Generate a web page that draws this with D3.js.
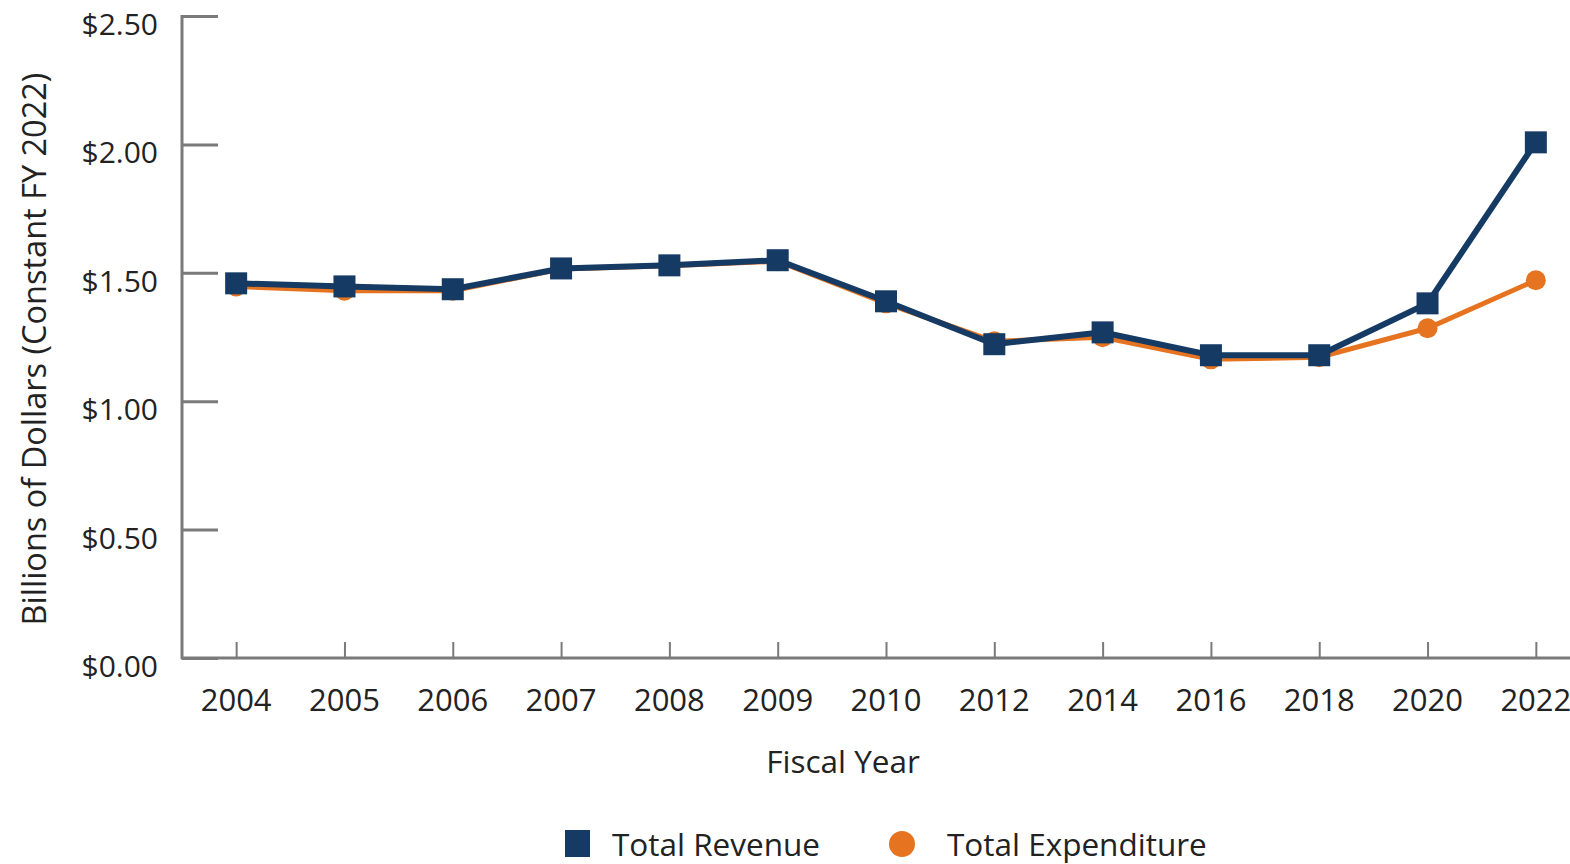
<!DOCTYPE html>
<html>
<head>
<meta charset="utf-8">
<script src="https://cdn.jsdelivr.net/npm/d3@7"></script>
<style>
	body { margin: 0; background: #fff; }
	svg { display: block; font-family: "Open Sans", "Noto Sans", sans-serif; }
</style>
</head>
<body>
<svg id="chart" width="1570" height="864"></svg>
<script>
// fiscal years (not evenly spaced, drawn as categories)
const years = ["2004", "2005", "2006", "2007", "2008", "2009", "2010", "2012", "2014", "2016", "2018", "2020", "2022"];
// billions of dollars, constant FY 2022
const revenue = [1.459, 1.447, 1.436, 1.517, 1.529, 1.549, 1.389, 1.222, 1.268, 1.179, 1.179, 1.381, 2.008];
const expenditure = [1.447, 1.430, 1.430, 1.515, 1.527, 1.545, 1.381, 1.233, 1.249, 1.163, 1.171, 1.284, 1.471];
const yTicks = [0, 0.5, 1.0, 1.5, 2.0, 2.5];

const colors = { revenue: "#153a63", expenditure: "#e5731f", axis: "#7a7a7a" };

const svg = d3.select("#chart");

const x = d3.scalePoint()
	.domain(years)
	.range([182, 1590])
	.padding(0.5);

const y = d3.scaleLinear()
	.domain([0, 2.5])
	.range([658, 16]);

// y axis: ticks point inward
const yAxis = svg.append("g")
	.attr("transform", "translate(182,0)")
	.call(d3.axisRight(y).tickValues(yTicks).tickSize(36).tickFormat(""));
yAxis.select(".domain").remove();
yAxis.selectAll(".tick line").attr("stroke", colors.axis).attr("stroke-width", 3);
svg.append("line")
	.attr("x1", 182).attr("x2", 182)
	.attr("y1", y(2.5) - 1).attr("y2", y(0) + 1)
	.attr("stroke", colors.axis).attr("stroke-width", 3);

svg.append("g").selectAll("text")
	.data(yTicks)
	.enter()
	.append("text")
	.attr("x", 158)
	.attr("y", d => y(d) + 19)
	.attr("text-anchor", "end")
	.attr("font-size", 30)
	.attr("fill", "#222")
	.text(d => "$" + d.toFixed(2));

// x axis: ticks point up
const xAxis = svg.append("g")
	.attr("transform", "translate(0,658)")
	.call(d3.axisTop(x).tickSize(16).tickFormat(""));
xAxis.select(".domain").remove();
xAxis.selectAll(".tick line").attr("stroke", colors.axis).attr("stroke-width", 2);
svg.append("line")
	.attr("x1", 181).attr("x2", 1570)
	.attr("y1", 658).attr("y2", 658)
	.attr("stroke", colors.axis).attr("stroke-width", 3);

svg.append("g").selectAll("text")
	.data(years)
	.enter()
	.append("text")
	.attr("x", d => x(d))
	.attr("y", 711)
	.attr("text-anchor", "middle")
	.attr("font-size", 31)
	.attr("fill", "#222")
	.text(d => d);

svg.append("text")
	.attr("x", 843)
	.attr("y", 773)
	.attr("text-anchor", "middle")
	.attr("font-size", 31.5)
	.attr("fill", "#222")
	.text("Fiscal Year");

svg.append("text")
	.attr("transform", "translate(46,349) rotate(-90)")
	.attr("text-anchor", "middle")
	.attr("font-size", 32.5)
	.attr("fill", "#222")
	.text("Billions of Dollars (Constant FY 2022)");

// lines
const line = d3.line()
	.x((d, i) => x(years[i]))
	.y(d => y(d));

svg.append("path")
	.datum(expenditure)
	.attr("fill", "none")
	.attr("stroke", colors.expenditure)
	.attr("stroke-width", 5)
	.attr("d", line);

svg.append("g").selectAll("circle")
	.data(expenditure)
	.enter()
	.append("circle")
	.attr("cx", (d, i) => x(years[i]))
	.attr("cy", d => y(d))
	.attr("r", 10)
	.attr("fill", colors.expenditure);

svg.append("path")
	.datum(revenue)
	.attr("fill", "none")
	.attr("stroke", colors.revenue)
	.attr("stroke-width", 6)
	.attr("d", line);

svg.append("g").selectAll("rect")
	.data(revenue)
	.enter()
	.append("rect")
	.attr("x", (d, i) => x(years[i]) - 11)
	.attr("y", d => y(d) - 11)
	.attr("width", 22)
	.attr("height", 22)
	.attr("fill", colors.revenue);

// legend
const legend = svg.append("g");
legend.append("rect")
	.attr("x", 565).attr("y", 830)
	.attr("width", 25).attr("height", 27)
	.attr("fill", colors.revenue);
legend.append("text")
	.attr("x", 612).attr("y", 856)
	.attr("font-size", 31.5)
	.attr("fill", "#222")
	.text("Total Revenue");
legend.append("circle")
	.attr("cx", 902).attr("cy", 844)
	.attr("r", 13)
	.attr("fill", colors.expenditure);
legend.append("text")
	.attr("x", 947).attr("y", 856)
	.attr("font-size", 31.5)
	.attr("fill", "#222")
	.text("Total Expenditure");
</script>
</body>
</html>
